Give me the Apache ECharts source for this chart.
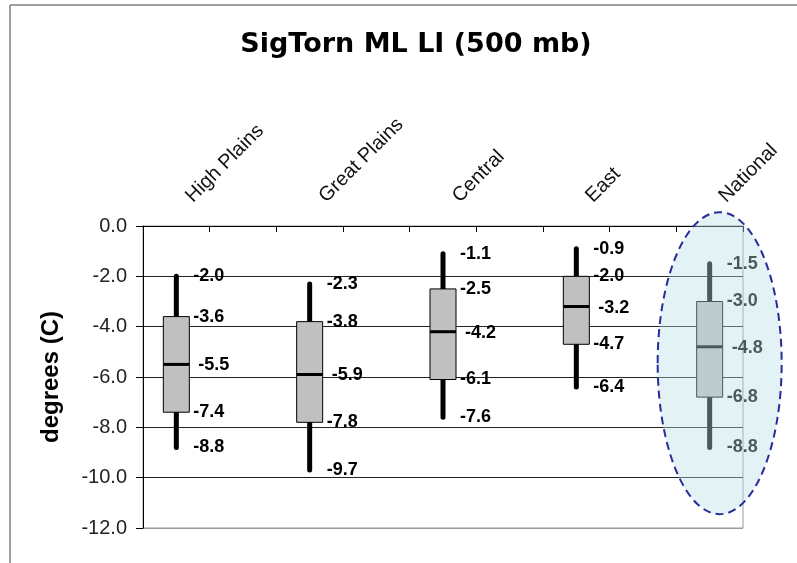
<!DOCTYPE html>
<html>
<head>
<meta charset="utf-8">
<script src="https://cdn.jsdelivr.net/npm/echarts@6/dist/echarts.min.js"></script>
<style>
html,body{margin:0;padding:0;background:#fff;}
#chart{width:797px;height:563px;}
</style>
</head>
<body>
<div id="chart"></div>
<script>
// ---- data ----
const regions = ['High Plains', 'Great Plains', 'Central', 'East', 'National'];
const whiskerTop = [-2.0, -2.3, -1.1, -0.9, -1.5];
const boxTop = [-3.6, -3.8, -2.5, -2.0, -3.0];
const medians = [-5.5, -5.9, -4.2, -3.2, -4.8];
const boxBottom = [-7.4, -7.8, -6.1, -4.7, -6.8];
const whiskerBottom = [-8.8, -9.7, -7.6, -6.4, -8.8];
const yMin = -12, yMax = 0, yStep = 2;
const highlightRegion = 'National';
const highlightRange = [0.55, -11.45]; // annotation ellipse extent (degrees)

// category slots: a blank slot between regions
const slots = [];
regions.forEach((r, i) => { slots.push(r); if (i < regions.length - 1) slots.push(''); });
const boxData = regions.map((r, i) => [slots.indexOf(r), whiskerTop[i], boxTop[i], medians[i], boxBottom[i], whiskerBottom[i]]);

const chart = echarts.init(document.getElementById('chart'), null, {renderer: 'canvas'});
const labelFont = {fontFamily: 'Liberation Sans', fontWeight: 'bold', fontSize: 18};

function renderItem(params, api) {
  const x = api.value(0);
  const pWT = api.coord([x, api.value(1)]);
  const pBT = api.coord([x, api.value(2)]);
  const pMed = api.coord([x, api.value(3)]);
  const pBB = api.coord([x, api.value(4)]);
  const pWB = api.coord([x, api.value(5)]);
  const band = api.size([1, 0])[0];
  const bw = band * 0.39;
  const cx = pWT[0];
  const lx = cx + bw / 2 + 4;
  const mk = (val, y, dx) => ({
    type: 'text', x: lx + (dx || 0), y: y,
    style: Object.assign({text: val.toFixed(1), fill: '#000', align: 'left', verticalAlign: 'middle'}, labelFont)
  });
  return {
    type: 'group',
    children: [
      {type: 'line', shape: {x1: cx, y1: pWT[1], x2: cx, y2: pWB[1]}, style: {stroke: '#000', lineWidth: 5, lineCap: 'round'}},
      {type: 'rect', shape: {x: cx - bw / 2, y: pBT[1], width: bw, height: pBB[1] - pBT[1]}, style: {fill: '#c0c0c0', stroke: '#000', lineWidth: 1}},
      {type: 'line', shape: {x1: cx - bw / 2, y1: pMed[1], x2: cx + bw / 2, y2: pMed[1]}, style: {stroke: '#000', lineWidth: 3}},
      mk(api.value(1), pWT[1]),
      mk(api.value(2), pBT[1]),
      mk(api.value(3), pMed[1] + 1, 5),
      mk(api.value(4), pBB[1]),
      mk(api.value(5), pWB[1])
    ]
  };
}

const option = {
  animation: false,
  backgroundColor: '#fff',
  title: {
    text: 'SigTorn ML LI (500 mb)',
    left: 411, top: 26, textAlign: 'center',
    textStyle: {fontFamily: 'DejaVu Sans', fontWeight: 'bold', fontSize: 27, color: '#000'}
  },
  grid: {left: 143, right: 54, top: 226, bottom: 35, show: true, borderColor: '#999', borderWidth: 1, backgroundColor: '#fff'},
  xAxis: {
    type: 'category', position: 'top', data: slots, boundaryGap: true,
    axisLine: {show: true, lineStyle: {color: '#000', width: 1}},
    axisTick: {show: true, inside: true, length: 6, interval: 0, lineStyle: {color: '#000'}},
    axisLabel: {interval: 0, rotate: 45, margin: 14, padding: [0, 0, 0, 18], color: '#111', fontFamily: 'Liberation Sans', fontSize: 20},
    splitLine: {show: false}
  },
  yAxis: {
    type: 'value', min: yMin, max: yMax, interval: yStep,
    name: 'degrees (C)', nameLocation: 'middle', nameGap: 80, nameRotate: 90,
    nameTextStyle: {fontFamily: 'Liberation Sans', fontWeight: 'bold', fontSize: 24, color: '#000'},
    axisLine: {show: true, lineStyle: {color: '#000', width: 1}},
    axisTick: {show: true, inside: false, length: 7, lineStyle: {color: '#000'}},
    axisLabel: {margin: 16, color: '#222', fontFamily: 'Liberation Sans', fontSize: 20, formatter: v => v.toFixed(1)},
    splitLine: {show: true, lineStyle: {color: ['#999', '#222', '#222', '#222', '#222', '#222', '#222'], width: 1}}
  },
  series: [{
    type: 'custom', renderItem: renderItem, data: boxData,
    encode: {x: 0, y: [1, 2, 3, 4, 5]}, z: 5
  }]
};
chart.setOption(option);

// annotation: frame + highlight ellipse around the national box
const hIdx = slots.indexOf(highlightRegion);
const pc = chart.convertToPixel({gridIndex: 0}, [hIdx, highlightRange[0]]);
const pb = chart.convertToPixel({gridIndex: 0}, [hIdx, highlightRange[1]]);
chart.setOption({
  graphic: [
    {type: 'line', z: 200, shape: {x1: 10, y1: 5, x2: 797, y2: 5}, style: {stroke: '#808080', lineWidth: 1.5}},
    {type: 'line', z: 200, shape: {x1: 10, y1: 5, x2: 10, y2: 563}, style: {stroke: '#808080', lineWidth: 1.5}},
    {type: 'ellipse', z: 100,
     shape: {cx: pc[0] + 10, cy: (pc[1] + pb[1]) / 2, rx: 62, ry: (pb[1] - pc[1]) / 2},
     style: {fill: 'rgba(185,222,228,0.4)', stroke: '#2a2a9a', lineWidth: 2, lineDash: [8, 5]}}
  ]
});
</script>
</body>
</html>
